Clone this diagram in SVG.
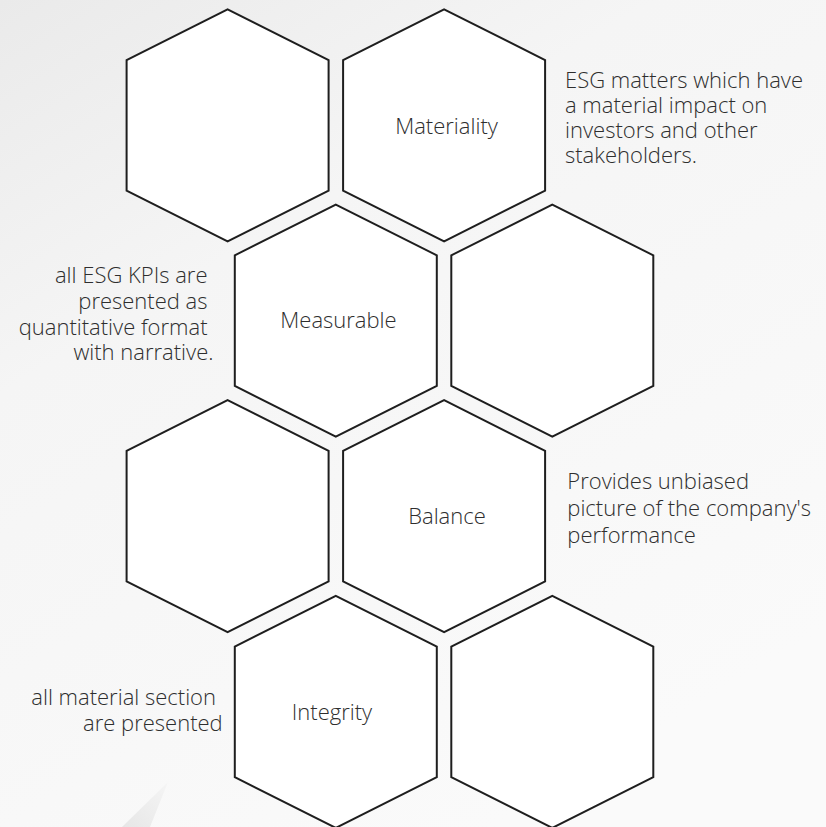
<svg xmlns="http://www.w3.org/2000/svg" width="826" height="827" viewBox="0 0 826 827">
  <defs>
    <linearGradient id="bg" x1="0" y1="0" x2="0.6" y2="1">
      <stop offset="0" stop-color="#eaeaea"/>
      <stop offset="0.35" stop-color="#f5f5f5"/>
      <stop offset="1" stop-color="#fafafa"/>
    </linearGradient>
    <linearGradient id="streak" x1="0" y1="1" x2="1" y2="0">
      <stop offset="0" stop-color="#e2e2e2"/>
      <stop offset="1" stop-color="#f4f4f4"/>
    </linearGradient>
    <polygon id="hex" points="0,-116 101,-65.3 101,65.3 0,116 -101,65.3 -101,-65.3"/>
  </defs>
  <style>
    .hex { fill: #ffffff; stroke: #1e1e1e; stroke-width: 2; stroke-linejoin: miter; }
    .lbl { font-family: "Open Sans", "Noto Sans", "Liberation Sans", sans-serif; font-size: 22px; font-weight: 350; fill: #2e2e2e; }
    .mid { text-anchor: middle; }
    .end { text-anchor: end; }
  </style>
  <rect x="0" y="0" width="826" height="827" fill="url(#bg)"/>
  <polygon points="122,827 168,782 150,827" fill="url(#streak)" opacity="0.8"/>

  <g id="hex-r1-left">
    <use href="#hex" class="hex" x="227.6" y="125.3"/>
  </g>
  <g id="hex-materiality">
    <use href="#hex" class="hex" x="444.1" y="125.3"/>
    <text class="lbl mid" x="446.5" y="134.3">Materiality</text>
  </g>
  <g id="desc-materiality">
    <text class="lbl" x="565" y="88.3">ESG matters which have</text>
    <text class="lbl" x="565" y="113.3">a material impact on</text>
    <text class="lbl" x="565" y="138.3">investors and other</text>
    <text class="lbl" x="565" y="162.7">stakeholders.</text>
  </g>

  <g id="hex-measurable">
    <use href="#hex" class="hex" x="335.8" y="320.6"/>
    <text class="lbl mid" x="338.5" y="328.3">Measurable</text>
  </g>
  <g id="hex-r2-right">
    <use href="#hex" class="hex" x="552.3" y="320.6"/>
  </g>
  <g id="desc-measurable">
    <text class="lbl end" x="207.5" y="283.3">all ESG KPIs are</text>
    <text class="lbl end" x="207.5" y="309.3">presented as</text>
    <text class="lbl end" x="207.5" y="335">quantitative format</text>
    <text class="lbl end" x="213.5" y="360.3">with narrative.</text>
  </g>

  <g id="hex-r3-left">
    <use href="#hex" class="hex" x="227.6" y="516.2"/>
  </g>
  <g id="hex-balance">
    <use href="#hex" class="hex" x="444.1" y="516.2"/>
    <text class="lbl mid" x="447" y="524">Balance</text>
  </g>
  <g id="desc-balance">
    <text class="lbl" x="567.3" y="489">Provides unbiased</text>
    <text class="lbl" x="567.3" y="516">picture of the company's</text>
    <text class="lbl" x="567.3" y="543">performance</text>
  </g>

  <g id="hex-integrity">
    <use href="#hex" class="hex" x="335.8" y="711.9"/>
    <text class="lbl mid" x="332" y="720">Integrity</text>
  </g>
  <g id="hex-r4-right">
    <use href="#hex" class="hex" x="552.3" y="711.9"/>
  </g>
  <g id="desc-integrity">
    <text class="lbl end" x="216" y="705">all material section</text>
    <text class="lbl end" x="222.7" y="730.7">are presented</text>
  </g>

  <g id="connectors"/>
</svg>
